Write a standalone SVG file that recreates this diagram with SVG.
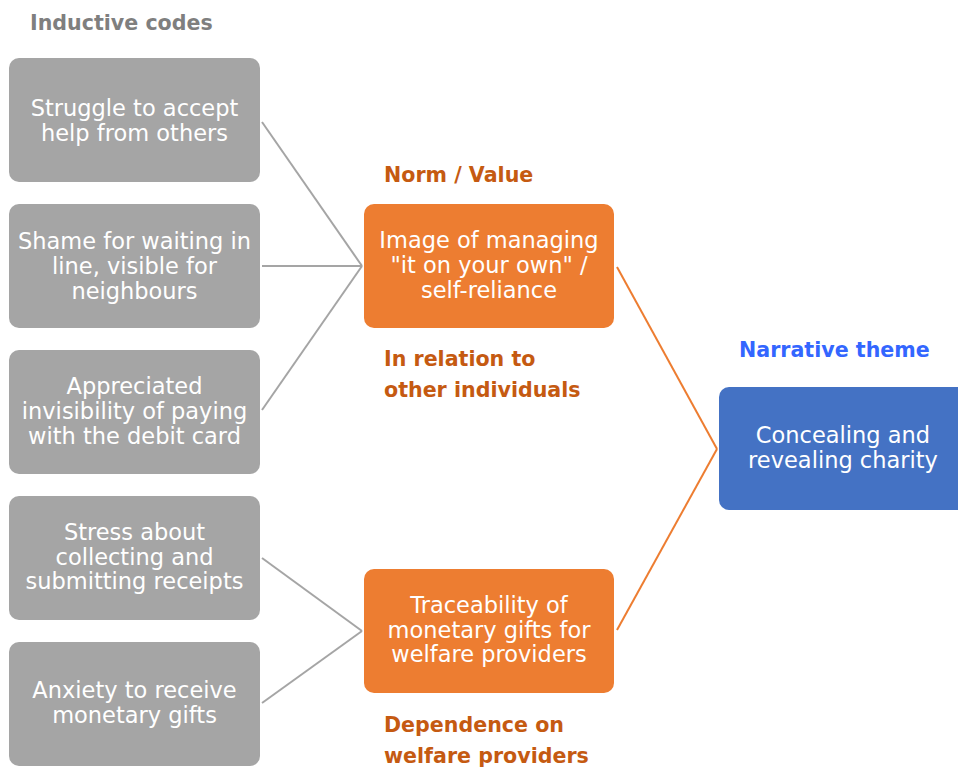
<svg xmlns="http://www.w3.org/2000/svg" width="958" height="767" viewBox="0 0 958 767">
<style>
.bg{fill:#ffffff}
.gray{fill:#A5A5A5}
.orange{fill:#ED7D31}
.blue{fill:#4472C4}
.t{font-family:"DejaVu Sans","Noto Sans",sans-serif;font-size:22.5px;fill:#ffffff;text-anchor:middle}
.h{font-family:"DejaVu Sans","Noto Sans",sans-serif;font-size:20.6px;font-weight:bold}
.hg{fill:#7F7F7F}
.ho{fill:#C55A11}
.hb{fill:#3366FF}
.cg{stroke:#A5A5A5;stroke-width:2;fill:none}
.co{stroke:#ED7D31;stroke-width:2;fill:none}
</style>
<rect class="bg" width="958" height="767"/>
<g id="labels">
<text class="h hg" x="30" y="30">Inductive codes</text>
<text class="h ho" x="384" y="182">Norm / Value</text>
<text class="h ho" x="384" y="366">In relation to</text>
<text class="h ho" x="384" y="397">other individuals</text>
<text class="h hb" x="739" y="357">Narrative theme</text>
<text class="h ho" x="384" y="732">Dependence on</text>
<text class="h ho" x="384" y="763">welfare providers</text>
</g>
<g id="connectors">
<line class="cg" x1="262" y1="122" x2="362" y2="266"/>
<line class="cg" x1="262" y1="266" x2="362" y2="266"/>
<line class="cg" x1="262" y1="410" x2="362" y2="266"/>
<line class="cg" x1="262" y1="558" x2="362" y2="631"/>
<line class="cg" x1="262" y1="703" x2="362" y2="631"/>
<line class="co" x1="617" y1="267" x2="717" y2="449"/>
<line class="co" x1="617" y1="630" x2="717" y2="449"/>
</g>
<g id="code1">
<rect class="gray" x="9" y="58" width="251" height="124" rx="10"/>
<text class="t" x="134.5" y="116">Struggle to accept</text>
<text class="t" x="134.5" y="141">help from others</text>
</g>
<g id="code2">
<rect class="gray" x="9" y="204" width="251" height="124" rx="10"/>
<text class="t" x="134.5" y="249">Shame for waiting in</text>
<text class="t" x="134.5" y="274">line, visible for</text>
<text class="t" x="134.5" y="299">neighbours</text>
</g>
<g id="code3">
<rect class="gray" x="9" y="350" width="251" height="124" rx="10"/>
<text class="t" x="134.5" y="394">Appreciated</text>
<text class="t" x="134.5" y="419">invisibility of paying</text>
<text class="t" x="134.5" y="444">with the debit card</text>
</g>
<g id="code4">
<rect class="gray" x="9" y="496" width="251" height="124" rx="10"/>
<text class="t" x="134.5" y="540">Stress about</text>
<text class="t" x="134.5" y="565">collecting and</text>
<text class="t" x="134.5" y="589">submitting receipts</text>
</g>
<g id="code5">
<rect class="gray" x="9" y="642" width="251" height="124" rx="10"/>
<text class="t" x="134.5" y="698">Anxiety to receive</text>
<text class="t" x="134.5" y="723">monetary gifts</text>
</g>
<g id="norm1">
<rect class="orange" x="364" y="204" width="250" height="124" rx="10"/>
<text class="t" x="489" y="248">Image of managing</text>
<text class="t" x="489" y="273">"it on your own" /</text>
<text class="t" x="489" y="298">self-reliance</text>
</g>
<g id="norm2">
<rect class="orange" x="364" y="569" width="250" height="124" rx="10"/>
<text class="t" x="489" y="613">Traceability of</text>
<text class="t" x="489" y="638">monetary gifts for</text>
<text class="t" x="489" y="662">welfare providers</text>
</g>
<g id="theme">
<rect class="blue" x="719" y="387" width="250" height="123" rx="10"/>
<text class="t" x="843" y="443">Concealing and</text>
<text class="t" x="843" y="468">revealing charity</text>
</g>
</svg>
